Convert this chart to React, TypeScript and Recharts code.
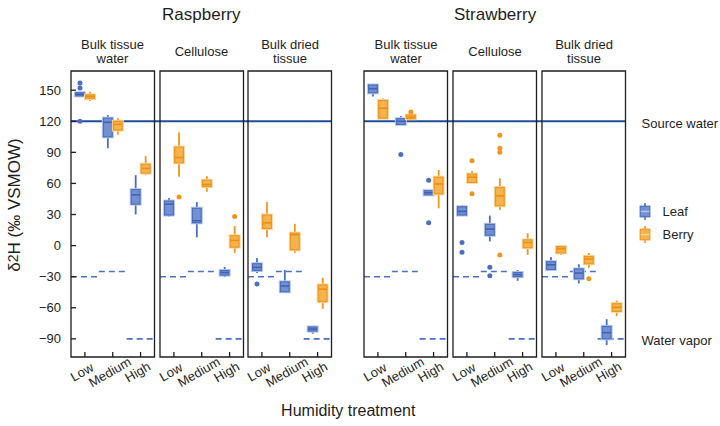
import React from 'react';
import { ComposedChart, Bar, XAxis, YAxis, ReferenceLine, ReferenceArea } from 'recharts';

const FONT = '"Liberation Sans", Arial, Helvetica, sans-serif';

const LEVELS = ['Low', 'Medium', 'High'];
const SPECIES = ['Raspberry', 'Strawberry'];
const TISSUES = [['Bulk tissue', 'water'], ['Cellulose'], ['Bulk dried', 'tissue']];
const Y_TICKS = [-90, -60, -30, 0, 30, 60, 90, 120, 150];
const Y_DOMAIN = [-107.5, 168.5];
const SOURCE_WATER = 120;
// water vapor δ2H for Low, Medium, High humidity
const WATER_VAPOR = [-30, -25, -90];

// box summaries per humidity level (Low, Medium, High): [min, q1, median, q3, max]
const RASP_WATER_LEAF = [[144.5, 144.5, 146, 147.5, 147.5], [94, 105, 119, 123, 126], [30, 40, 49, 54, 68]];
const RASP_WATER_BERRY = [[139.5, 142, 144, 145.5, 148.5], [107, 111.5, 117, 120, 123], [68, 70, 74.5, 78.5, 86.5]];
const RASP_CELL_LEAF = [[28, 29.5, 40, 43, 46], [8, 22, 24, 36, 42], [-30.5, -28.5, -26, -24, -20.5]];
const RASP_CELL_BERRY = [[66.5, 80, 85, 95, 109.5], [52, 57, 59, 63, 67], [-7, -1.5, 5, 9.5, 19]];
const RASP_DRY_LEAF = [[-26.5, -24, -21, -17.5, -12], [-45.5, -44.5, -39, -35, -23.5], [-85, -82.5, -80.5, -78.5, -78.5]];
const RASP_DRY_BERRY = [[8, 16.5, 22, 29.5, 42], [-7, -4, 10.5, 12, 21], [-61, -54, -42, -38, -31]];
const STRAW_WATER_LEAF = [[144, 147.5, 151.5, 155, 155.5], [116.5, 117, 120, 122.5, 125], [48.5, 49, 51, 53, 53.5]];
const STRAW_WATER_BERRY = [[122.5, 123, 132.5, 140, 142], [121, 122.5, 124, 126, 127], [36, 50, 59.5, 66, 73]];
const STRAW_CELL_LEAF = [[29, 29.5, 33, 37.5, 39], [4, 10, 16, 20.5, 29], [-34, -30, -28, -26, -23.5]];
const STRAW_CELL_BERRY = [[60, 61, 66, 69, 72], [34.5, 38.5, 48, 56, 65], [-9, -2, 3, 5.5, 12]];
const STRAW_DRY_LEAF = [[-24, -23, -18.5, -15.5, -11], [-36.5, -32, -26.5, -22.5, -18], [-96, -90, -84, -78, -71]];
const STRAW_DRY_BERRY = [[-9, -7, -3, -1, 0], [-21.5, -17.5, -13, -10.5, -7], [-68, -63.5, -59.5, -56, -53]];

// outliers per humidity level
const RASP_WATER_LEAF_OUT = [[157, 152, 120], [], []];
const RASP_WATER_BERRY_OUT = [[], [], []];
const RASP_CELL_LEAF_OUT = [[], [], []];
const RASP_CELL_BERRY_OUT = [[47], [], [28]];
const RASP_DRY_LEAF_OUT = [[-37], [], []];
const RASP_DRY_BERRY_OUT = [[], [], []];
const STRAW_WATER_LEAF_OUT = [[], [88], [63, 22]];
const STRAW_WATER_BERRY_OUT = [[], [129], []];
const STRAW_CELL_LEAF_OUT = [[3, -6.5], [-21, -29], []];
const STRAW_CELL_BERRY_OUT = [[82, 50], [106.5, 94, 90, -9], []];
const STRAW_DRY_LEAF_OUT = [[], [], []];
const STRAW_DRY_BERRY_OUT = [[], [-32], []];

const PANELS = [
  { leaf: RASP_WATER_LEAF, leafOut: RASP_WATER_LEAF_OUT, berry: RASP_WATER_BERRY, berryOut: RASP_WATER_BERRY_OUT },
  { leaf: RASP_CELL_LEAF, leafOut: RASP_CELL_LEAF_OUT, berry: RASP_CELL_BERRY, berryOut: RASP_CELL_BERRY_OUT },
  { leaf: RASP_DRY_LEAF, leafOut: RASP_DRY_LEAF_OUT, berry: RASP_DRY_BERRY, berryOut: RASP_DRY_BERRY_OUT },
  { leaf: STRAW_WATER_LEAF, leafOut: STRAW_WATER_LEAF_OUT, berry: STRAW_WATER_BERRY, berryOut: STRAW_WATER_BERRY_OUT },
  { leaf: STRAW_CELL_LEAF, leafOut: STRAW_CELL_LEAF_OUT, berry: STRAW_CELL_BERRY, berryOut: STRAW_CELL_BERRY_OUT },
  { leaf: STRAW_DRY_LEAF, leafOut: STRAW_DRY_LEAF_OUT, berry: STRAW_DRY_BERRY, berryOut: STRAW_DRY_BERRY_OUT },
];

const LEAF = { line: '#4a6fc0', fill: '#7290d2', halo: '#b9c8ea', median: '#3f63b4' };
const BERRY = { line: '#f0961e', fill: '#f4b34e', halo: '#f8d7a4', median: '#ec8f14' };
const SOURCE_COLOR = '#1f4e99';
const VAPOR_COLOR = '#4a72c4';
const INK = '#1e1e1e';

// layout
const PLOT_TOP = 71;
const PLOT_H = 286;
const PANEL_W = 83.5;
const AXIS_W = 50;
const X_AXIS_H = 46;
const PANEL_LEFT = [70.7, 159.7, 248.3, 364.3, 453.3, 542.3];

const fmt = (v: number) => (v < 0 ? `\u2212${Math.abs(v)}` : `${v}`);

function BoxGlyph(props: any) {
  const { x, y, width, height, five, out, c } = props;
  const [lo, q1, med, q3, hi] = five;
  const top = Math.min(y, y + height);
  const h = Math.abs(height);
  const k = h / (q3 - q1);
  const py = (v: number) => top + (q3 - v) * k;
  const cx = x + width / 2;
  return (
    <g>
      <line x1={cx} x2={cx} y1={py(hi)} y2={top} stroke={c.line} strokeWidth={1.8} />
      <line x1={cx} x2={cx} y1={top + h} y2={py(lo)} stroke={c.line} strokeWidth={1.8} />
      <rect x={x - 0.3} y={top - 0.8} width={width + 0.6} height={h + 1.6} fill="none" stroke={c.halo} strokeWidth={1.4} />
      <rect x={x + 0.6} y={top} width={width - 1.2} height={h} fill={c.fill} stroke={c.line} strokeWidth={1.2} />
      <line x1={x + 0.6} x2={x + width - 0.6} y1={py(med)} y2={py(med)} stroke={c.median} strokeWidth={1.6} />
      {out.map((v: number, i: number) => (
        <circle key={i} cx={cx} cy={py(v)} r={2.5} fill={c.line} />
      ))}
    </g>
  );
}

function VaporDash(props: any) {
  const { x, y, width } = props;
  return <line x1={x} x2={x + width} y1={y} y2={y} stroke={VAPOR_COLOR} strokeWidth={1.6} strokeDasharray="6 4" />;
}

function LevelTick(props: any) {
  const { x, y, payload } = props;
  const tx = x - 3;
  return (
    <text x={tx} y={y} dy="0.35em" textAnchor="middle" transform={`rotate(-30 ${tx} ${y})`}
      fontSize={13} fill={INK} fontFamily={FONT}>
      {payload.value}
    </text>
  );
}

function Panel({ index }: { index: number }) {
  const p = PANELS[index];
  const rows = LEVELS.map((level, i) => ({
    level,
    leaf: p.leaf[i],
    leafOut: p.leafOut[i],
    berry: p.berry[i],
    berryOut: p.berryOut[i],
  }));
  const hasTicks = index % 3 === 0;
  const hasLabels = index === 0;
  return (
    <div style={{ position: 'absolute', left: PANEL_LEFT[index] - AXIS_W, top: PLOT_TOP - 2 }}>
      <ComposedChart
        width={AXIS_W + PANEL_W + 2}
        height={2 + PLOT_H + X_AXIS_H}
        data={rows}
        margin={{ top: 2, right: 2, bottom: 0, left: 0 }}
        barSize={10}
        barGap={0}
      >
        <XAxis dataKey="level" height={X_AXIS_H} axisLine={false} interval={0}
          tickSize={-5} tickMargin={20} tickLine={{ stroke: INK, strokeWidth: 1.3 }} tick={<LevelTick />} />
        <YAxis type="number" domain={Y_DOMAIN} ticks={Y_TICKS} width={AXIS_W} axisLine={false}
          tickSize={-5} tickMargin={15} tickFormatter={fmt}
          tickLine={hasTicks ? { stroke: INK, strokeWidth: 1.3 } : false}
          tick={hasLabels ? { fontSize: 13, fill: INK, fontFamily: FONT } : false} />
        {LEVELS.map((level, i) => (
          <ReferenceArea key={level} x1={level} x2={level} y1={WATER_VAPOR[i]} y2={WATER_VAPOR[i]}
            ifOverflow="visible" shape={<VaporDash />} />
        ))}
        <Bar dataKey={(d: any) => [d.leaf[1], d.leaf[3]]} isAnimationActive={false}
          shape={(s: any) => <BoxGlyph {...s} five={s.payload.leaf} out={s.payload.leafOut} c={LEAF} />} />
        <Bar dataKey={(d: any) => [d.berry[1], d.berry[3]]} isAnimationActive={false}
          shape={(s: any) => <BoxGlyph {...s} five={s.payload.berry} out={s.payload.berryOut} c={BERRY} />} />
        <ReferenceArea x1="Low" x2="High" y1={Y_DOMAIN[0]} y2={Y_DOMAIN[1]} ifOverflow="visible"
          fill="none" fillOpacity={0} stroke={INK} strokeWidth={1.3} strokeOpacity={1} />
      </ComposedChart>
    </div>
  );
}

// source water line runs across all three panels of a species
function SourceLine({ s }: { s: number }) {
  const left = PANEL_LEFT[s * 3];
  const right = PANEL_LEFT[s * 3 + 2] + PANEL_W;
  const rows = LEVELS.map((level) => ({ level, source: SOURCE_WATER }));
  return (
    <div style={{ position: 'absolute', left, top: PLOT_TOP - 2 }}>
      <ComposedChart width={right - left} height={PLOT_H + 4} data={rows}
        margin={{ top: 2, right: 0, bottom: 2, left: 0 }}>
        <XAxis dataKey="level" hide />
        <YAxis type="number" domain={Y_DOMAIN} hide />
        {/* invisible series so the axes get their scales */}
        <Bar dataKey="source" fill="none" isAnimationActive={false} />
        <ReferenceLine y={SOURCE_WATER} stroke={SOURCE_COLOR} strokeWidth={2} ifOverflow="visible" />
      </ComposedChart>
    </div>
  );
}

function LegendIcon({ y, c }: { y: number; c: typeof LEAF }) {
  return (
    <g>
      <line x1={645} x2={645} y1={y - 8.5} y2={y + 8.5} stroke={c.line} strokeWidth={1.6} />
      <rect x={640.2} y={y - 5.3} width={9.6} height={10.6} fill={c.fill} stroke={c.line} strokeWidth={1.2} />
      <line x1={640.8} x2={649.2} y1={y} y2={y} stroke={c.halo} strokeWidth={1.4} />
    </g>
  );
}

export default function App() {
  const groupCenter = (s: number) => (PANEL_LEFT[s * 3] + PANEL_LEFT[s * 3 + 2] + PANEL_W) / 2;
  const plotCenter = (PANEL_LEFT[0] + PANEL_LEFT[5] + PANEL_W) / 2;
  return (
    <div style={{ position: 'absolute', left: 0, top: 0, width: 720, height: 426, background: '#fff', fontFamily: FONT }}>
      <svg width={720} height={426} style={{ position: 'absolute', left: 0, top: 0 }} fontFamily={FONT} fill={INK}>
        {SPECIES.map((name, s) => (
          <text key={name} x={groupCenter(s)} y={20} textAnchor="middle" fontSize={17}>{name}</text>
        ))}
        {PANEL_LEFT.map((left, i) => {
          const lines = TISSUES[i % 3];
          const cx = left + PANEL_W / 2;
          return lines.length === 1 ? (
            <text key={i} x={cx} y={55.5} textAnchor="middle" fontSize={13}>{lines[0]}</text>
          ) : (
            <text key={i} x={cx} textAnchor="middle" fontSize={13}>
              <tspan x={cx} y={48.5}>{lines[0]}</tspan>
              <tspan x={cx} y={63}>{lines[1]}</tspan>
            </text>
          );
        })}
        <text transform="translate(20 205) rotate(-90)" textAnchor="middle" fontSize={17}>
          δ<tspan fontSize={14} dy={-2}>2</tspan><tspan dy={2}>H (‰ VSMOW)</tspan>
        </text>
        <text x={plotCenter} y={416} textAnchor="middle" fontSize={16}>Humidity treatment</text>
        <text x={641.5} y={128} fontSize={13}>Source water</text>
        <text x={641.5} y={344.5} fontSize={13}>Water vapor</text>
        <LegendIcon y={211.5} c={LEAF} />
        <text x={662.5} y={216} fontSize={13}>Leaf</text>
        <LegendIcon y={234.5} c={BERRY} />
        <text x={662.5} y={239} fontSize={13}>Berry</text>
      </svg>
      <SourceLine s={0} />
      <SourceLine s={1} />
      {PANELS.map((_, i) => (
        <Panel key={i} index={i} />
      ))}
    </div>
  );
}
